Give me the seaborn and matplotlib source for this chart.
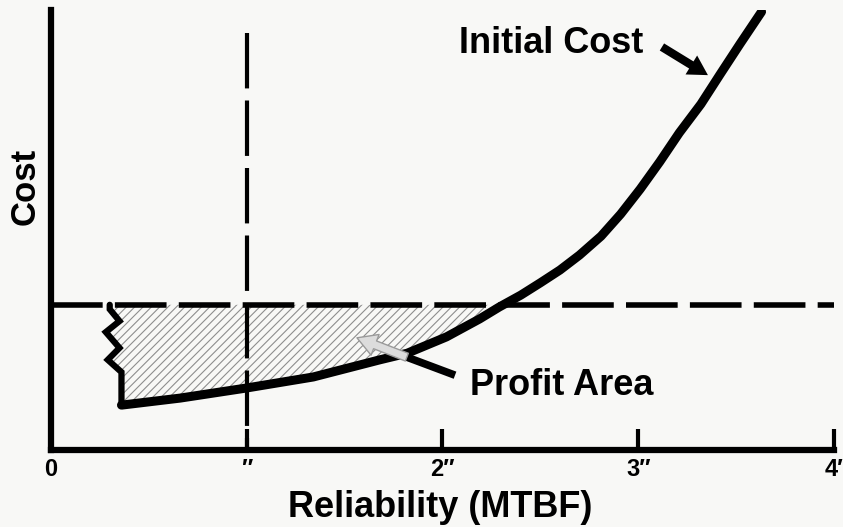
import numpy as np
import pandas as pd
import seaborn as sns
import matplotlib.pyplot as plt

# curve (reliability in MTBF units, cost in arbitrary units 0-10)
reliability = [0.36, 0.66, 1.00, 1.34, 1.68, 1.82, 2.02, 2.19, 2.29, 2.40, 2.50, 2.60, 2.70,
               2.81, 2.91, 3.01, 3.11, 3.21, 3.32, 3.42, 3.52, 3.63]
initial_cost = [1.02, 1.18, 1.41, 1.66, 2.05, 2.20, 2.57, 2.98, 3.25, 3.52, 3.80, 4.09, 4.43,
                4.86, 5.36, 5.93, 6.55, 7.21, 7.86, 8.55, 9.23, 9.96]

# jagged left edge of the profit area
zigzag_x = [0.30, 0.30, 0.35, 0.28, 0.35, 0.29, 0.36, 0.36]
zigzag_y = [3.30, 3.20, 2.93, 2.68, 2.32, 2.05, 1.77, 1.02]

price_level = 3.30      # horizontal dashed line
required_mtbf = 1.0     # vertical dashed line
vline_top = 9.48

tick_pos = [0, 1, 2, 3, 4]
tick_labels = ['0', '\u2033', '2\u2033', '3\u2033', '4\u2032']

bg = '#f8f8f6'

sns.set_style('white')
plt.rcParams['font.family'] = ['Liberation Sans', 'DejaVu Sans']
plt.rcParams['text.color'] = 'black'
plt.rcParams['axes.labelcolor'] = 'black'
plt.rcParams['xtick.color'] = 'black'
plt.rcParams['hatch.color'] = '#8e8e8e'
plt.rcParams['hatch.linewidth'] = 0.8

df = pd.DataFrame({'Reliability': reliability, 'Cost': initial_cost})

fig = plt.figure(figsize=(8.43, 5.27), dpi=100)
fig.patch.set_facecolor(bg)
ax = fig.add_axes([0.0605, 0.1461, 0.9288, 0.8349])
ax.set_facecolor(bg)

# hatched profit area: zigzag edge, along the curve, back along the price line
cross = np.interp(price_level, initial_cost, reliability)
under = df[df['Cost'] <= price_level]
poly_x = zigzag_x + list(under['Reliability']) + [cross, zigzag_x[0]]
poly_y = zigzag_y + list(under['Cost']) + [price_level, price_level]
ax.fill(poly_x, poly_y, facecolor='none', edgecolor='#8e8e8e', hatch='////', linewidth=0, zorder=1)

# dashed guide lines
ax.plot([0, 4], [price_level, price_level], color='black', lw=4, dashes=(9.3, 2.2), zorder=2)
ax.plot([required_mtbf, required_mtbf], [vline_top, 0], color='black', lw=3, dashes=(13.3, 2.9), zorder=2)

# initial cost curve
sns.lineplot(data=df, x='Reliability', y='Cost', sort=False, color='black', lw=6.5, ax=ax,
             solid_joinstyle='round', zorder=4)
ax.plot(zigzag_x, zigzag_y, color='black', lw=4.5, solid_joinstyle='miter', zorder=4)

# labels and arrows
ax.text(2.554, 9.25, 'Initial Cost', ha='center', va='center', fontsize=26, fontweight='bold')
ax.annotate('', xy=(3.356, 8.52), xytext=(3.121, 9.16),
            arrowprops=dict(arrowstyle='simple,head_length=0.7,head_width=0.8,tail_width=0.3',
                            mutation_scale=20, fc='black', ec='black', lw=0, shrinkA=0, shrinkB=0))

ax.text(2.61, 1.477, 'Profit Area', ha='center', va='center', fontsize=26, fontweight='bold')
ax.plot([2.064, 1.818], [1.70, 2.11], color='black', lw=5.5, solid_capstyle='butt', zorder=5)
ax.annotate('', xy=(1.563, 2.55), xytext=(1.818, 2.11),
            arrowprops=dict(arrowstyle='simple,head_length=0.7,head_width=0.8,tail_width=0.3',
                            mutation_scale=20, fc='#dcdcdc', ec='#9a9a9a', lw=1, shrinkA=0, shrinkB=0),
            zorder=5)

ax.set_xlim(0, 4)
ax.set_ylim(0, 10)
ax.set_xticks(tick_pos)
ax.set_xticklabels(tick_labels, fontweight='bold')
ax.set_yticks([])
ax.tick_params(axis='x', bottom=True, direction='in', length=15, width=3, pad=6,
               labelsize=17, color='black', labelcolor='black')
ax.xaxis.get_major_ticks()[0].tick1line.set_visible(False)

sns.despine(ax=ax)
for side in ['left', 'bottom']:
    ax.spines[side].set_linewidth(4.5)
    ax.spines[side].set_color('black')
    ax.spines[side].set_capstyle('projecting')

ax.set_xlabel('Reliability (MTBF)', fontsize=26, fontweight='bold')
ax.xaxis.set_label_coords(0.497, -0.09)
ax.set_ylabel('Cost', fontsize=25, fontweight='bold')
ax.yaxis.set_label_coords(-0.012, 0.6)

plt.savefig('out.png', dpi=100, facecolor=bg)
